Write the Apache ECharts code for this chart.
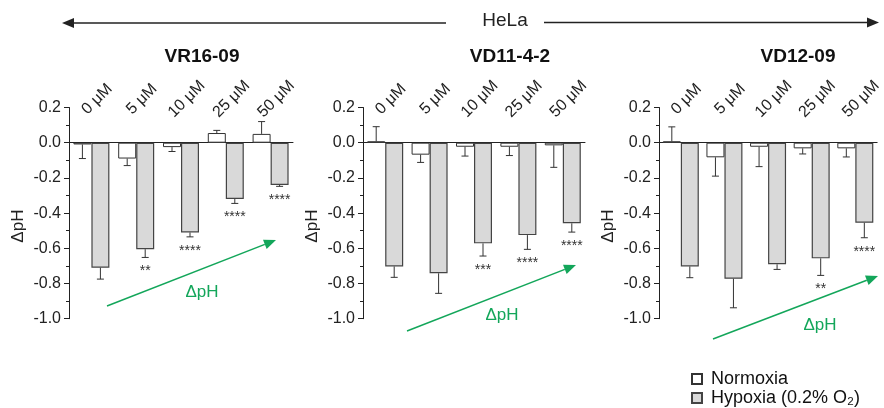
<!DOCTYPE html>
<html>
<head>
<meta charset="utf-8">
<script src="https://cdn.jsdelivr.net/npm/echarts@6/dist/echarts.min.js"></script>
<style>
  html, body { margin: 0; padding: 0; background: #fff; }
  #chart { width: 884px; height: 408px; }
</style>
</head>
<body>
<div id="chart"></div>
<script>
// Dose groups and panel (cell line / compound) names
const categories = ['0 μM', '5 μM', '10 μM', '25 μM', '50 μM'];
const panelTitles = ['VR16-09', 'VD11-4-2', 'VD12-09'];
const seriesNames = ['Normoxia', 'Hypoxia (0.2% O₂)'];

// ΔpH means and SD, VR16-09
const vr1609Normoxia = [-0.01, -0.09, -0.025, 0.055, 0.05];
const vr1609NormoxiaErr = [0.08, 0.04, 0.025, 0.015, 0.07];
const vr1609Hypoxia = [-0.71, -0.605, -0.51, -0.32, -0.24];
const vr1609HypoxiaErr = [0.065, 0.047, 0.025, 0.025, 0.008];
const vr1609Sig = ['', '**', '****', '****', '****'];

// ΔpH means and SD, VD11-4-2
const vd1142Normoxia = [0.008, -0.068, -0.023, -0.023, -0.015];
const vd1142NormoxiaErr = [0.083, 0.044, 0.053, 0.05, 0.125];
const vd1142Hypoxia = [-0.703, -0.742, -0.572, -0.525, -0.458];
const vd1142HypoxiaErr = [0.062, 0.114, 0.072, 0.081, 0.05];
const vd1142Sig = ['', '', '***', '****', '****'];

// ΔpH means and SD, VD12-09
const vd1209Normoxia = [0.008, -0.083, -0.023, -0.032, -0.032];
const vd1209NormoxiaErr = [0.082, 0.107, 0.113, 0.032, 0.049];
const vd1209Hypoxia = [-0.703, -0.773, -0.691, -0.657, -0.455];
const vd1209HypoxiaErr = [0.064, 0.165, 0.029, 0.097, 0.085];
const vd1209Sig = ['', '', '', '**', '****'];

// y axis range and step
const yMin = -1.0;
const yMax = 0.2;
const yStep = 0.2;

const panels = [
  { n: vr1609Normoxia, ne: vr1609NormoxiaErr, h: vr1609Hypoxia, he: vr1609HypoxiaErr, sig: vr1609Sig },
  { n: vd1142Normoxia, ne: vd1142NormoxiaErr, h: vd1142Hypoxia, he: vd1142HypoxiaErr, sig: vd1142Sig },
  { n: vd1209Normoxia, ne: vd1209NormoxiaErr, h: vd1209Hypoxia, he: vd1209HypoxiaErr, sig: vd1209Sig }
];

const FONT = '"Liberation Sans", Arial, Helvetica, sans-serif';
const INK = '#222';
const GREEN = '#13a65a';
const BAR_W = 18;

// layout of the three plots
const gridLeft = [69, 363, 659];
const gridWidth = [224, 222, 224];
const gridTop = 107.5;
const gridHeight = 211.2;
const titleCenter = [197, 505, 793];

const chart = echarts.init(document.getElementById('chart'), null, { renderer: 'canvas' });

// one-sided error bars (pointing away from zero) plus significance stars
function errorSeries(gi, values, errs, offsetPx, stars) {
  return {
    type: 'custom',
    xAxisIndex: 2 * gi,
    yAxisIndex: gi,
    silent: true,
    z: 5,
    encode: { x: 0, y: 1 },
    data: values.map((v, i) => [i, v, errs[i]]),
    renderItem(params, api) {
      const idx = api.value(0);
      const v = api.value(1);
      const e = api.value(2);
      const dir = v >= 0 ? 1 : -1;
      const base = api.coord([idx, v]);
      const end = api.coord([idx, v + dir * e]);
      const x = base[0] + offsetPx;
      const children = [
        { type: 'line', shape: { x1: x, y1: base[1], x2: x, y2: end[1] },
          style: { stroke: '#333', lineWidth: 1 } },
        { type: 'line', shape: { x1: x - 3.5, y1: end[1], x2: x + 3.5, y2: end[1] },
          style: { stroke: '#333', lineWidth: 1 } }
      ];
      const s = stars ? stars[params.dataIndex] : '';
      if (s) {
        children.push({ type: 'text', style: {
          text: s, x: x, y: end[1] + 7, align: 'center', verticalAlign: 'top',
          font: '14px ' + FONT, fill: '#333' } });
      }
      return { type: 'group', children };
    }
  };
}

// straight arrow with filled head
function arrow(x1, y1, x2, y2, color, width, headLen, headHalf) {
  const ang = Math.atan2(y2 - y1, x2 - x1);
  const bx = x2 - headLen * Math.cos(ang), by = y2 - headLen * Math.sin(ang);
  const px = -Math.sin(ang) * headHalf, py = Math.cos(ang) * headHalf;
  return [
    { type: 'line', shape: { x1, y1, x2: bx, y2: by }, style: { stroke: color, lineWidth: width }, silent: true },
    { type: 'polygon', shape: { points: [[x2, y2], [bx + px, by + py], [bx - px, by - py]] },
      style: { fill: color }, silent: true }
  ];
}

const grids = [], xAxes = [], yAxes = [], series = [], titles = [];
panels.forEach((p, gi) => {
  grids.push({ left: gridLeft[gi], top: gridTop, width: gridWidth[gi], height: gridHeight });
  titles.push({
    text: panelTitles[gi], left: titleCenter[gi], top: 42, textAlign: 'center',
    textStyle: { fontFamily: FONT, fontSize: 19, fontWeight: 'bold', color: '#111' }
  });
  // dose labels along the top, slanted upward
  xAxes.push({
    type: 'category', gridIndex: gi, data: categories, position: 'top',
    axisLine: { show: false, onZero: false }, axisTick: { show: false },
    axisLabel: { interval: 0, rotate: -45, align: 'center', verticalAlign: 'top', margin: 14,
      fontFamily: FONT, fontSize: 16, color: INK }
  });
  // baseline at ΔpH = 0
  xAxes.push({
    type: 'category', gridIndex: gi, data: categories, position: 'bottom',
    axisLine: { show: true, onZero: true, lineStyle: { color: INK, width: 1 } },
    axisTick: { show: false }, axisLabel: { show: false }
  });
  yAxes.push({
    type: 'value', gridIndex: gi, min: yMin, max: yMax, interval: yStep,
    name: 'ΔpH', nameLocation: 'middle', nameGap: 42,
    nameTextStyle: { fontFamily: FONT, fontSize: 17, color: INK, padding: [0, 26, 0, 0] },
    axisLine: { show: true, lineStyle: { color: INK, width: 1 } },
    axisTick: { show: true, length: 5, lineStyle: { color: INK } },
    minorTick: { show: true, splitNumber: 2, length: 3, lineStyle: { color: INK } },
    splitLine: { show: false },
    axisLabel: { margin: 8, fontFamily: FONT, fontSize: 16, color: INK,
      formatter: v => v.toFixed(1) }
  });
  series.push({
    name: seriesNames[0], type: 'bar', xAxisIndex: 2 * gi, yAxisIndex: gi,
    data: p.n, barWidth: BAR_W, barGap: '0%',
    itemStyle: { color: '#ffffff', borderColor: '#333', borderWidth: 1 }
  });
  series.push({
    name: seriesNames[1], type: 'bar', xAxisIndex: 2 * gi, yAxisIndex: gi,
    data: p.h, barWidth: BAR_W, barGap: '0%',
    itemStyle: { color: '#d9d9d9', borderColor: '#444', borderWidth: 1.2 }
  });
  series.push(errorSeries(gi, p.n, p.ne, -BAR_W / 2, null));
  series.push(errorSeries(gi, p.h, p.he, BAR_W / 2, p.sig));
});

// cell line header with double-headed span arrow, and green trend arrows
const graphics = [
  { type: 'text', style: { text: 'HeLa', x: 505, y: 21, align: 'center', verticalAlign: 'middle',
      font: '19px ' + FONT, fill: INK }, silent: true },
  ...arrow(446, 23, 62, 23, INK, 1.5, 12, 5),
  ...arrow(544, 22.5, 879, 22.5, INK, 1.5, 12, 5),
  ...arrow(107, 306, 276, 240, GREEN, 1.5, 12, 5),
  ...arrow(407, 331, 576, 265, GREEN, 1.5, 12, 5),
  ...arrow(713, 339, 878, 276, GREEN, 1.5, 12, 5),
  { type: 'text', style: { text: 'ΔpH', x: 202, y: 292, align: 'center', verticalAlign: 'middle',
      font: '17px ' + FONT, fill: GREEN }, silent: true },
  { type: 'text', style: { text: 'ΔpH', x: 502, y: 315, align: 'center', verticalAlign: 'middle',
      font: '17px ' + FONT, fill: GREEN }, silent: true },
  { type: 'text', style: { text: 'ΔpH', x: 820, y: 325, align: 'center', verticalAlign: 'middle',
      font: '17px ' + FONT, fill: GREEN }, silent: true }
];

const legendText = { fontFamily: FONT, fontSize: 18, color: '#111', padding: [0, 0, 0, 4] };

chart.setOption({
  animation: false,
  backgroundColor: '#ffffff',
  title: titles,
  legend: [
    { data: [seriesNames[0]], left: 686, top: 365, itemWidth: 10, itemHeight: 10, icon: 'rect',
      textStyle: legendText },
    { data: [seriesNames[1]], left: 686, top: 384, itemWidth: 10, itemHeight: 10, icon: 'rect',
      textStyle: legendText }
  ],
  grid: grids,
  xAxis: xAxes,
  yAxis: yAxes,
  series: series,
  graphic: graphics
});
</script>
</body>
</html>
